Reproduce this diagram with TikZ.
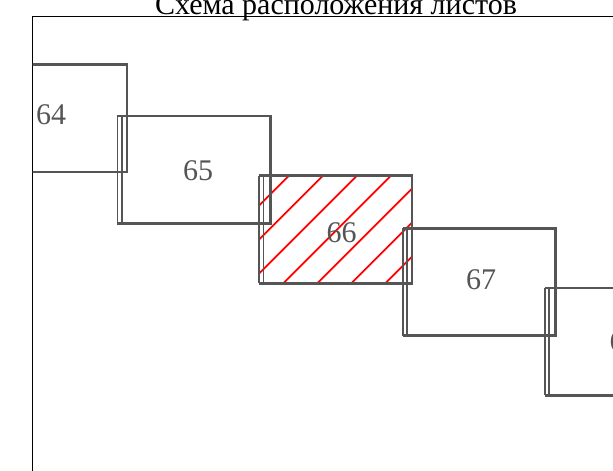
\documentclass[tikz,border=0pt]{standalone}
\usepackage{fontspec}
\setmainfont{Liberation Serif}
\usetikzlibrary{
  calc % 坐标计算
}
\definecolor{sheetgray}{RGB}{85,85,85}
\tikzset{
  sheet edge/.style={
    draw=sheetgray,
    line width=2.8pt
  },
  sheet seam/.style={
    draw=sheetgray,
    line width=1.6pt
  },
  sheet label/.style={
    font=\fontsize{30}{36}\selectfont,
    text=sheetgray,
    inner sep=0pt
  },
  hatch line/.style={
    red,
    line width=1.8pt
  },
  frame line/.style={
    black,
    line width=1.5pt
  }
}

\begin{document}
\begin{tikzpicture}[x=1pt, y=-1pt] % 以像素为单位，y 轴向下

  \useasboundingbox (0,0) rectangle (613,471); % 固定画面大小
  \clip (0,0) rectangle (613,471); % 超出部分裁掉

  % 标题
  \node[font=\fontsize{30}{36}\selectfont, anchor=base] (title) at (336,14) {Схема расположения листов};

  % 外框（只露出左边和上边）
  \coordinate (frameBL) at (32.5,700);
  \coordinate (frameTL) at (32.5,16.7);
  \coordinate (frameTR) at (800,16.7);
  \draw[frame line] (frameBL) -- (frameTL) -- (frameTR);

  \begin{scope}
    \clip (frameTL) rectangle (800,700); % 图幅只在框内显示

    % 第 66 张图幅的红色斜线填充
    \coordinate (hatchTL) at (259,175.7);
    \begin{scope}
      \clip (hatchTL) rectangle ++(153,107.4);
      \foreach \k in {0,...,6}
        \draw[hatch line] ($(hatchTL)+(30+34*\k,0)$) -- ++(-200,200); % 45 度斜线
    \end{scope}

    % 各张图幅：编号/左上角 x/左上角 y/编号偏移 x/编号偏移 y
    \foreach \n/\x/\y/\lx/\ly in {64/-26/64.5/77/50.5, 65/117.3/116/80.7/55, 66/259/175.7/82.7/57.3, 67/402.7/228.3/78.3/51.7, 68/544.7/288/80/54}{
      \draw[sheet edge] (\x,\y) -- ++(153,0) -- ++(0,107.4) -- ++(-153,0); % 上、右、下边
      \draw[sheet seam] (\x,\y) -- ++(0,107.4); % 左边外线
      \draw[sheet seam] (\x+4.5,\y) -- ++(0,107.4); % 左边内线
      \node[sheet label] (sheet\n) at (\x+\lx,\y+\ly) {\n}; % 图幅编号
    }
  \end{scope}

\end{tikzpicture}
\end{document}
